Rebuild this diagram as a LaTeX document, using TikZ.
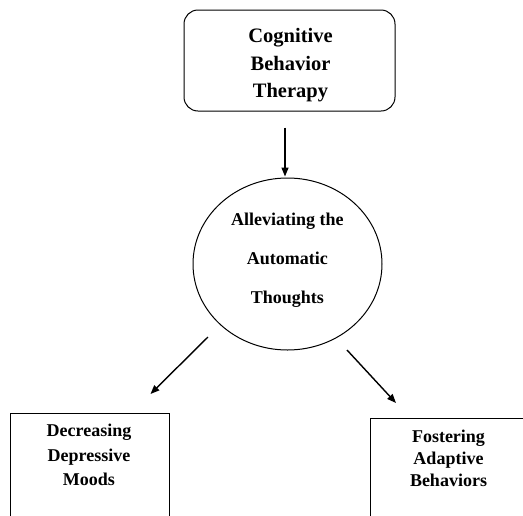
\documentclass[tikz,border=0pt]{standalone}
\usepackage{fontspec}
\setmainfont{Liberation Serif}
\usetikzlibrary{shapes.geometric,arrows.meta,calc}
\tikzset{
  shapebox/.style={draw=black,line width=1pt,inner sep=0pt},
  txt/.style={anchor=base,inner sep=0pt,font=\bfseries\fontsize{18}{18}\selectfont},
  bigtxt/.style={txt,font=\bfseries\fontsize{20.5}{20.5}\selectfont},
  conn/.style={line width=1.4pt,-{Triangle[length=9pt,width=7pt]}}
}
\begin{document}
\begin{tikzpicture}[x=1pt,y=-1pt]
\useasboundingbox (0,0) rectangle (523,515);
\clip (0,0) rectangle (523,515);
% shapes
\node[shapebox,rounded corners=14pt,minimum width=211pt,minimum height=101pt] (cbt) at (289.5,60.5) {};
\node[shapebox,ellipse,minimum width=189pt,minimum height=172pt] (alle) at (287.5,264) {};
\node[shapebox,minimum width=159pt,minimum height=160pt,anchor=north west] (decr) at (10,413) {};
\node[shapebox,minimum width=175pt,minimum height=160pt,anchor=north west] (fost) at (370,418) {};
% texts
\node[bigtxt] (t1) at (290.5,42) {Cognitive};
\node[bigtxt] (t2) at (290.5,70) {Behavior};
\node[bigtxt] (t3) at (290.5,97) {Therapy};
\node[txt] (a1) at (287.3,225) {Alleviating the};
\node[txt] (a2) at (287.3,264.5) {Automatic};
\node[txt] (a3) at (287.3,303) {Thoughts};
\node[txt] (d1) at (89,436) {Decreasing};
\node[txt] (d2) at (89,461) {Depressive};
\node[txt] (d3) at (89,485) {Moods};
\node[txt] (f1) at (448.5,442) {Fostering};
\node[txt] (f2) at (448.5,464) {Adaptive};
\node[txt] (f3) at (448.5,486) {Behaviors};
% connectors
\draw[conn] ($(cbt.south)+(-4.5,16)$) -- ($(alle.north)+(-2.5,-1)$);
\draw[conn] ($(alle.center)+(-79.5,73)$) -- ($(decr.north)+(60.5,-19)$);
\draw[conn] ($(alle.center)+(59.5,86)$) -- ($(fost.north west)+(26,-15)$);
\end{tikzpicture}
\end{document}
